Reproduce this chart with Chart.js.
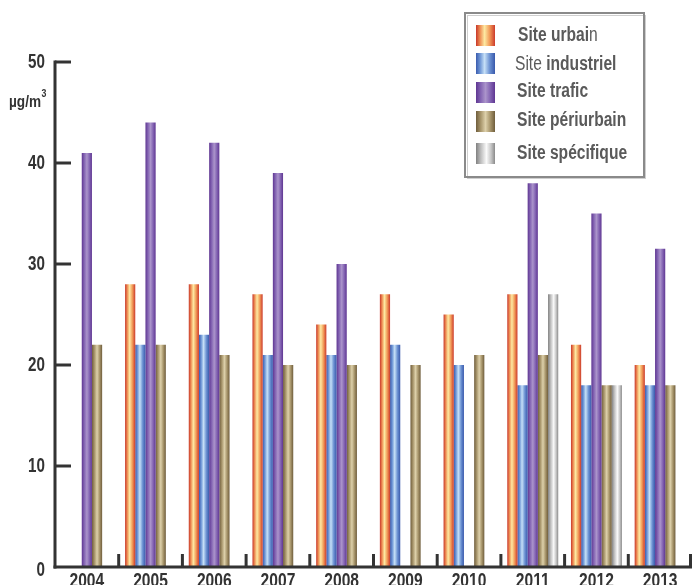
<!DOCTYPE html>
<html>
<head>
<meta charset="utf-8">
<script src="https://cdn.jsdelivr.net/npm/chart.js@4/dist/chart.umd.min.js"></script>
<style>
  html, body { margin: 0; padding: 0; background: #ffffff; }
  #wrap { width: 692px; height: 585px; }
</style>
</head>
<body>
<div id="wrap"><canvas id="chart" width="692" height="585"></canvas></div>
<script>
// Annual values in µg/m3 per monitoring site type
const categories = ['2004', '2005', '2006', '2007', '2008', '2009', '2010', '2011', '2012', '2013'];
const urbain      = [null, 28, 28, 27, 24, 27, 25, 27, 22, 20];
const industriel  = [null, 22, 23, 21, 21, 22, 20, 18, 18, 18];
const trafic      = [41, 44, 42, 39, 30, null, null, 38, 35, 31.5];
const periurbain  = [22, 22, 21, 20, 20, 20, 21, 21, 18, 18];
const specifique  = [null, null, null, null, null, null, null, 27, 18, null];
const yTicks = [0, 10, 20, 30, 40, 50];
const unitLabel = 'µg/m';
const unitExp = '3';

// Cylinder-like horizontal shading for each series
const shades = {
  urbain:     [[0, '#c8372a'], [0.22, '#ee8f55'], [0.45, '#fde9a2'], [0.72, '#f19a58'], [1, '#cc3a2b']],
  industriel: [[0, '#3a5bae'], [0.22, '#6f97d6'], [0.45, '#c6e0f7'], [0.72, '#6d93d3'], [1, '#3858ab']],
  trafic:     [[0, '#5f3692'], [0.25, '#8465b3'], [0.5, '#ab94cb'], [0.75, '#8465b3'], [1, '#5f3692']],
  periurbain: [[0, '#6f5d3c'], [0.25, '#a8966c'], [0.5, '#ddd0aa'], [0.75, '#a8966c'], [1, '#6f5d3c']],
  specifique: [[0, '#808080'], [0.25, '#bdbdbd'], [0.55, '#fafafa'], [0.8, '#c4c4c4'], [1, '#8a8a8a']]
};

const FONT = "'Liberation Sans', Arial, sans-serif";
const CAT_PCT = 0.8;
const SERIES_COUNT = 5;

function makeGradient(g, x0, x1, stops) {
  const grad = g.createLinearGradient(x0, 0, x1, 0);
  stops.forEach(s => grad.addColorStop(s[0], s[1]));
  return grad;
}

function barFill(stops) {
  return function (ctx) {
    const chart = ctx.chart;
    const xs = chart.scales && chart.scales.x;
    if (!xs || ctx.type !== 'data' || !chart.chartArea) return stops[2][1];
    const catW = (xs.right - xs.left) / categories.length;
    const barW = catW * CAT_PCT / SERIES_COUNT;
    const x0 = xs.getPixelForValue(ctx.dataIndex) - catW * CAT_PCT / 2 + ctx.datasetIndex * barW;
    return makeGradient(chart.ctx, x0, x0 + barW, stops);
  };
}

// Draw horizontally condensed text; returns the drawn width
function narrowText(g, text, x, y, align, font, squeeze) {
  g.save();
  g.font = font;
  g.textAlign = align;
  g.translate(x, y);
  g.scale(squeeze, 1);
  g.fillText(text, 0, 0);
  const w = g.measureText(text).width * squeeze;
  g.restore();
  return w;
}

const legendItems = [
  { key: 'urbain',     top: 25,  mid: 35,  x: 518, runs: [['Site urbai', 'bold'], ['n', 'normal']] },
  { key: 'industriel', top: 53,  mid: 64,  x: 515, runs: [['Site ', 'normal'], ['industriel', 'bold']] },
  { key: 'trafic',     top: 82,  mid: 91,  x: 517, runs: [['Site trafic', 'bold']] },
  { key: 'periurbain', top: 111, mid: 120, x: 517, runs: [['Site périurbain', 'bold']] },
  { key: 'specifique', top: 143, mid: 153, x: 517, runs: [['Site spécifique', 'bold']] }
];

// Axes, tick marks, labels and the boxed legend
const decorations = {
  id: 'decorations',
  afterDraw(chart) {
    const g = chart.ctx;
    const xs = chart.scales.x;
    const ys = chart.scales.y;
    const left = xs.left;
    const right = xs.right;
    const yTop = ys.getPixelForValue(50);
    const yBase = ys.getPixelForValue(0);
    const catW = (right - left) / categories.length;

    g.save();
    g.strokeStyle = '#333333';
    g.lineWidth = 3;
    g.lineCap = 'butt';

    // vertical axis with inward ticks
    g.beginPath();
    g.moveTo(left, yTop - 1.5);
    g.lineTo(left, yBase + 1.5);
    g.stroke();
    yTicks.forEach(v => {
      if (v === 0) return;
      const y = ys.getPixelForValue(v);
      g.beginPath();
      g.moveTo(left, y);
      g.lineTo(left + 16, y);
      g.stroke();
    });

    // horizontal axis with upward ticks at category boundaries
    g.beginPath();
    g.moveTo(left - 1.5, yBase);
    g.lineTo(right, yBase);
    g.stroke();
    for (let i = 1; i <= categories.length; i++) {
      const x = Math.min(xs.getPixelForValue(i - 1) + catW / 2, right - 1.5);
      g.beginPath();
      g.moveTo(x, yBase);
      g.lineTo(x, yBase - 13);
      g.stroke();
    }

    // y tick labels
    g.fillStyle = '#333333';
    g.textBaseline = 'middle';
    yTicks.forEach(v => {
      const y = ys.getPixelForValue(v) + (v === 0 ? 3 : 0);
      narrowText(g, String(v), left - 10, y, 'right', 'bold 20px ' + FONT, 0.76);
    });

    // unit
    g.textBaseline = 'alphabetic';
    const uw = narrowText(g, unitLabel, 9, 107, 'left', 'bold 17px ' + FONT, 0.8);
    narrowText(g, unitExp, 9 + uw + 0.5, 97, 'left', 'bold 11px ' + FONT, 0.8);

    // category labels
    g.textBaseline = 'top';
    categories.forEach((c, i) => {
      narrowText(g, c, xs.getPixelForValue(i), yBase + 4, 'center', 'bold 20px ' + FONT, 0.78);
    });

    // legend box
    g.fillStyle = '#ffffff';
    g.fillRect(465, 13, 179, 164);
    g.strokeStyle = '#cfcfcf';
    g.lineWidth = 1;
    g.strokeRect(467.5, 15.5, 178, 163);
    g.strokeStyle = '#8a8a8a';
    g.lineWidth = 2;
    g.strokeRect(465, 13, 179, 164);

    legendItems.forEach(item => {
      g.fillStyle = makeGradient(g, 476, 495, shades[item.key]);
      g.fillRect(476, item.top, 19, 21);
      g.fillStyle = '#5a5a5a';
      g.textBaseline = 'middle';
      let x = item.x;
      item.runs.forEach(r => {
        x += narrowText(g, r[0], x, item.mid, 'left', r[1] + ' 20px ' + FONT, 0.78);
      });
    });
    g.restore();
  }
};

function series(label, data, key) {
  return {
    label: label,
    data: data,
    backgroundColor: barFill(shades[key]),
    borderWidth: 0,
    categoryPercentage: CAT_PCT,
    barPercentage: 1.0
  };
}

new Chart(document.getElementById('chart'), {
  type: 'bar',
  data: {
    labels: categories,
    datasets: [
      series('Site urbain', urbain, 'urbain'),
      series('Site industriel', industriel, 'industriel'),
      series('Site trafic', trafic, 'trafic'),
      series('Site périurbain', periurbain, 'periurbain'),
      series('Site spécifique', specifique, 'specifique')
    ]
  },
  options: {
    responsive: false,
    animation: false,
    layout: { padding: { left: 55, right: 0, top: 62, bottom: 18 } },
    scales: {
      x: { display: false },
      y: { display: false, min: 0, max: 50 }
    },
    plugins: {
      legend: { display: false },
      tooltip: { enabled: false }
    }
  },
  plugins: [decorations]
});
</script>
</body>
</html>
